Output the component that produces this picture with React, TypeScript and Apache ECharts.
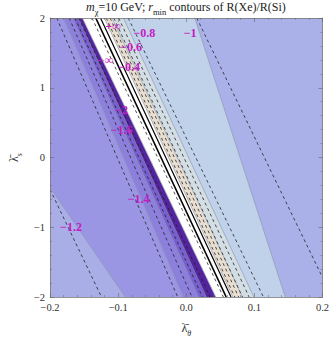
import React, { useEffect, useRef } from "react";
import * as echarts from "echarts";

// ---- data (λθ at λs = 2 and at λs = -2 for each straight contour) ----
const xTickValues = [-0.2, -0.1, 0, 0.1, 0.2];
const yTickValues = [-2, -1, 0, 1, 2];

const boundaryTopX = [-0.3706, -0.1804, -0.1664, -0.1585, -0.1524, -0.1203, -0.1091, -0.0923, 0.0126];
const boundaryBottomX = [-0.0895, -0.0042, 0.0182, 0.0295, 0.0434, 0.0685, 0.0825, 0.0993, 0.1455];
const regionColors = [
  "#A9AEE7", "#9B96E4", "#8C80DC", "#7860D0", "#52249E",
  "#FFFFFF", "#E8DFD0", "#D3DDE4", "#C0D1EA", "#AAB1E8",
];

const dashedTopX = [-0.3204, -0.1902, -0.172, -0.1636, -0.158, -0.1385, -0.1175, -0.1119, -0.1063, -0.0993, -0.0853, 0.0154];
const dashedBottomX = [-0.1245, -0.0126, 0.0084, 0.0238, 0.035, 0.0545, 0.0713, 0.0769, 0.0825, 0.0923, 0.1133, 0.214];

const solidTopX = [-0.1329, -0.1259];
const solidBottomX = [0.0587, 0.0657];

const labelText = ["−1.2", "−1.4", "−1.6", "−2", "−∞", "+∞", "−0.4", "−0.6", "−0.8", "−1"];
const labelX = [-0.1692, -0.0699, -0.0951, -0.0951, -0.1189, -0.1077, -0.0839, -0.0811, -0.0615, 0.0056];
const labelY = [-1.0, -0.597, 0.389, 0.681, 1.403, 1.889, 1.292, 1.583, 1.778, 1.792];

const X_MIN = xTickValues[0];
const X_MAX = xTickValues[xTickValues.length - 1];
const Y_MIN = yTickValues[0];
const Y_MAX = yTickValues[yTickValues.length - 1];

const SERIF = "'Liberation Serif', 'DejaVu Serif', serif";

function clipHalf(poly: number[][], keep: (p: number[]) => boolean, bound: number) {
  const out: number[][] = [];
  for (let i = 0; i < poly.length; i++) {
    const a = poly[i];
    const b = poly[(i + 1) % poly.length];
    const ain = keep(a);
    const bin = keep(b);
    if (ain) out.push(a);
    if (ain !== bin) {
      const t = (bound - a[0]) / (b[0] - a[0]);
      out.push([bound, a[1] + t * (b[1] - a[1])]);
    }
  }
  return out;
}

function clipPoly(poly: number[][]) {
  let p = clipHalf(poly, (q) => q[0] >= X_MIN, X_MIN);
  p = clipHalf(p, (q) => q[0] <= X_MAX, X_MAX);
  return p;
}

function clipSeg(xt: number, xb: number): number[][] | null {
  let t0 = 0, t1 = 1;
  const dx = xb - xt;
  if (Math.abs(dx) < 1e-12) {
    if (xt < X_MIN || xt > X_MAX) return null;
  } else {
    let ta = (X_MIN - xt) / dx;
    let tb = (X_MAX - xt) / dx;
    if (ta > tb) [ta, tb] = [tb, ta];
    t0 = Math.max(t0, ta);
    t1 = Math.min(t1, tb);
    if (t0 >= t1) return null;
  }
  const pt = (t: number) => [xt + dx * t, Y_MAX + (Y_MIN - Y_MAX) * t];
  return [pt(t0), pt(t1)];
}

export default function App() {
  const ref = useRef<HTMLDivElement>(null);
  useEffect(() => {
    if (!ref.current) return;
    const chart = echarts.init(ref.current, undefined, { renderer: "svg" });

    const renderItem = (_params: any, api: any) => {
      const children: any[] = [];
      const n = regionColors.length;
      for (let i = 0; i < n; i++) {
        const lt = i === 0 ? -1 : boundaryTopX[i - 1];
        const lb = i === 0 ? -1 : boundaryBottomX[i - 1];
        const rt = i === n - 1 ? 1 : boundaryTopX[i];
        const rb = i === n - 1 ? 1 : boundaryBottomX[i];
        const poly = clipPoly([[lt, Y_MAX], [rt, Y_MAX], [rb, Y_MIN], [lb, Y_MIN]]);
        if (poly.length < 3) continue;
        children.push({
          type: "polygon",
          shape: { points: poly.map((p) => api.coord(p)) },
          style: { fill: regionColors[i], stroke: regionColors[i], lineWidth: 0.4 },
        });
      }
      const addLine = (xt: number, xb: number, style: any) => {
        const s = clipSeg(xt, xb);
        if (!s) return;
        const a = api.coord(s[0]);
        const b = api.coord(s[1]);
        children.push({
          type: "line",
          shape: { x1: a[0], y1: a[1], x2: b[0], y2: b[1] },
          style,
        });
      };
      boundaryTopX.forEach((xt, i) =>
        addLine(xt, boundaryBottomX[i], { stroke: "#8C90A8", lineWidth: 0.6, fill: null })
      );
      dashedTopX.forEach((xt, i) =>
        addLine(xt, dashedBottomX[i], { stroke: "#222", lineWidth: 0.8, lineDash: [3, 3], fill: null })
      );
      solidTopX.forEach((xt, i) =>
        addLine(xt, solidBottomX[i], { stroke: "#000", lineWidth: i === 0 ? 1.6 : 1.2, fill: null })
      );
      labelText.forEach((t, i) => {
        const p = api.coord([labelX[i], labelY[i]]);
        children.push({
          type: "text",
          x: p[0],
          y: p[1],
          style: {
            text: t,
            fill: "#C21CC2",
            font: `bold 12px ${SERIF}`,
            align: "center",
            verticalAlign: "middle",
          },
        });
      });
      return { type: "group", children };
    };

    const tickFmtX = (v: number) => (v < -1e-9 ? "−" : "") + Math.abs(v).toFixed(1);
    const tickFmtY = (v: number) => (v < -1e-9 ? "−" : "") + Math.abs(Math.round(v)).toString();

    const axisCommon = {
      type: "value" as const,
      axisLine: { show: true, onZero: false, lineStyle: { color: "#777", width: 0.8 } },
      axisTick: { show: true, inside: true, length: 4, lineStyle: { color: "#666", width: 0.6 } },
      minorTick: { show: true, splitNumber: 5, length: 2, lineStyle: { color: "#666", width: 0.5 } },
      splitLine: { show: false },
      minorSplitLine: { show: false },
      z: 10,
    };

    const base = { fontFamily: SERIF, fontWeight: "normal" as const, color: "#222", lineHeight: 18 };
    const subRich = {
      a: { ...base, color: "#333", fontSize: 12, verticalAlign: "middle" as const },
      s: { ...base, color: "#333", fontSize: 8, fontStyle: "italic" as const, verticalAlign: "bottom" as const },
    };

    chart.setOption({
      animation: false,
      title: {
        text: "{i|m}{s|χ}{n|=10 GeV; }{i|r}{s|min}{n| contours of R(Xe)/R(Si)}",
        left: 86,
        top: -2,
        padding: 0,
        textStyle: {
          fontWeight: "normal",
          fontFamily: SERIF,
          fontSize: 12,
          rich: {
            i: { ...base, fontStyle: "italic", fontSize: 12, verticalAlign: "middle" },
            n: { ...base, fontSize: 12, verticalAlign: "middle" },
            s: { ...base, fontSize: 8.5, verticalAlign: "bottom", lineHeight: 17 },
          },
        },
      },
      grid: { left: 38, top: 18, width: 286, height: 288 },
      xAxis: [
        {
          ...axisCommon,
          position: "bottom",
          min: X_MIN,
          max: X_MAX,
          interval: 0.1,
          axisLabel: { formatter: tickFmtX, fontFamily: SERIF, fontSize: 10.5, color: "#333", margin: 5 },
          name: "{a|λ̄}{s|θ}",
          nameLocation: "middle",
          nameGap: 22,
          nameTextStyle: { rich: subRich },
        },
        {
          ...axisCommon,
          position: "top",
          min: X_MIN,
          max: X_MAX,
          interval: 0.1,
          axisLabel: { show: false },
        },
      ],
      yAxis: [
        {
          ...axisCommon,
          position: "left",
          min: Y_MIN,
          max: Y_MAX,
          interval: 1,
          axisLabel: { formatter: tickFmtY, fontFamily: SERIF, fontSize: 10.5, color: "#333", margin: 5 },
          name: "{a|λ̄}{s|s}",
          nameLocation: "middle",
          nameGap: 23,
          nameTextStyle: { rich: subRich },
        },
        {
          ...axisCommon,
          position: "right",
          min: Y_MIN,
          max: Y_MAX,
          interval: 1,
          axisLabel: { show: false },
        },
      ],
      series: [
        {
          type: "custom",
          xAxisIndex: 0,
          yAxisIndex: 0,
          clip: true,
          z: 1,
          silent: true,
          data: [[0, 0]],
          renderItem,
        },
      ],
    });
    return () => chart.dispose();
  }, []);
  return (
    <div
      ref={ref}
      style={{ position: "fixed", left: 0, top: 0, width: 332, height: 342, background: "#fff" }}
    />
  );
}
